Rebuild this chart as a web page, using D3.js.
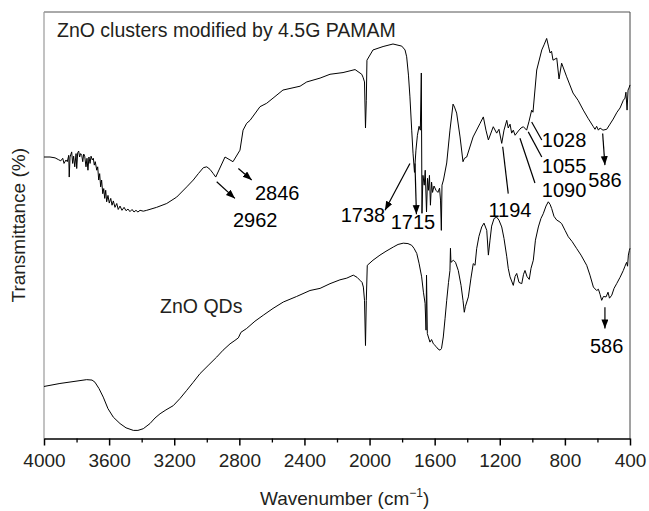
<!DOCTYPE html>
<html>
<head>
<meta charset="utf-8">
<title>FTIR ZnO</title>
<style>
  body { margin: 0; background: #fff; }
  text { font-family: "Liberation Sans", Arial, sans-serif; }
</style>
</head>
<body>
<div id="chart"></div>
<script src="https://cdn.jsdelivr.net/npm/d3@7"></script>
<script>
// spectra: [wavenumber (cm-1), transmittance (arb. %)]
var pamamSpectrum = [
  [4000,66.0],[3994,66.0],[3963,66.0],[3932,65.8],[3912,65.4],[3897,65.1],[3885,65.7],[3877,64.5],[3865,65.3],[3857,64.9],
  [3848,66.4],[3845,61.3],[3840,66.0],[3830,67.2],[3824,64.5],[3818,66.2],[3811,63.7],[3803,66.8],[3799,63.3],[3793,67.0],
  [3787,67.4],[3781,66.0],[3775,66.8],[3768,66.4],[3762,64.9],[3756,66.7],[3750,66.2],[3742,63.7],[3736,65.7],[3730,62.9],
  [3724,66.0],[3717,64.5],[3711,66.2],[3703,65.3],[3697,65.7],[3691,64.1],[3685,64.9],[3676,62.9],[3670,63.7],[3664,60.6],
  [3658,62.1],[3652,59.0],[3646,60.6],[3639,57.4],[3633,58.6],[3627,56.3],[3621,58.2],[3615,55.5],[3607,57.0],[3599,55.2],
  [3590,56.3],[3582,54.7],[3574,55.7],[3564,54.2],[3553,55.1],[3544,53.7],[3533,54.5],[3521,53.5],[3508,54.2],[3496,53.4],
  [3484,53.8],[3472,53.2],[3459,53.7],[3447,53.1],[3435,53.5],[3423,53.1],[3410,53.5],[3390,53.3],[3369,53.5],[3308,54.2],
  [3246,55.1],[3185,56.6],[3123,59.0],[3083,60.6],[3052,62.1],[3021,63.5],[3000,63.7],[2980,63.1],[2960,62.1],[2945,61.3],
  [2888,66.0],[2839,64.9],[2796,67.6],[2777,72.3],[2755,73.9],[2734,74.6],[2673,77.8],[2632,78.6],[2593,79.8],[2532,81.7],
  [2427,82.6],[2386,83.6],[2304,84.5],[2243,85.4],[2163,85.8],[2089,86.5],[2048,85.4],[2040,84.7],[2031,83.6],[2025,72.8],
  [2020,79.3],[2016,88.7],[1979,91.1],[1917,91.9],[1856,92.5],[1802,92.0],[1782,91.1],[1772,89.5],[1761,85.2],[1752,80.1],
  [1741,72.3],[1733,66.9],[1724,62.4],[1715,67.6],[1706,71.1],[1696,73.2],[1688,72.3],[1682,85.7],[1678,52.8],[1672,61.7],
  [1664,59.4],[1658,62.9],[1650,53.1],[1644,61.0],[1638,58.2],[1632,61.7],[1626,54.7],[1619,60.1],[1613,57.7],[1604,59.2],
  [1592,58.2],[1580,57.7],[1570,58.7],[1564,55.9],[1559,48.8],[1555,59.4],[1546,60.6],[1526,64.6],[1506,72.3],[1487,78.4],
  [1478,77.7],[1465,76.3],[1444,70.7],[1426,64.9],[1417,65.7],[1403,66.0],[1364,70.7],[1321,73.9],[1301,75.4],[1285,72.3],
  [1270,70.0],[1240,73.1],[1219,71.6],[1205,72.5],[1188,69.2],[1174,72.3],[1157,74.6],[1148,72.8],[1137,73.7],[1127,71.6],
  [1117,72.3],[1106,71.1],[1086,72.1],[1070,72.8],[1055,73.1],[1035,72.3],[1020,74.4],[1004,77.0],[996,76.5],[973,86.4],
  [942,91.1],[928,92.3],[912,93.8],[901,92.0],[891,90.4],[882,90.8],[873,88.7],[850,89.2],[836,84.3],[820,88.0],
  [789,84.8],[750,81.0],[719,79.3],[687,77.0],[658,75.1],[625,73.1],[615,72.5],[605,73.2],[594,72.3],[584,72.8],
  [566,72.3],[543,72.5],[523,73.7],[503,74.9],[480,76.5],[461,77.5],[441,79.3],[431,79.8],[425,81.2],[418,77.0],
  [412,81.7],[406,82.2],[400,82.9]
];

var qdSpectrum = [
  [4000,12.2],[3902,12.9],[3738,13.8],[3705,13.7],[3687,13.2],[3662,11.7],[3636,9.7],[3607,7.0],[3574,5.0],[3533,3.5],
  [3496,2.5],[3451,1.9],[3423,1.9],[3390,2.3],[3349,3.5],[3318,4.8],[3287,5.8],[3251,6.7],[3206,7.7],[3164,9.4],
  [3123,11.3],[3085,13.1],[3042,15.2],[2992,17.1],[2939,19.1],[2900,20.7],[2857,22.2],[2827,23.0],[2806,23.6],[2790,24.9],
  [2755,25.8],[2704,27.5],[2653,28.9],[2593,30.5],[2530,32.0],[2448,33.3],[2366,34.7],[2304,35.2],[2243,36.3],[2182,37.2],
  [2140,37.6],[2100,38.3],[2077,37.8],[2059,37.1],[2046,36.6],[2038,35.5],[2031,32.4],[2025,21.8],[2020,32.4],[2014,40.6],
  [1979,41.8],[1936,43.0],[1899,43.9],[1854,44.9],[1825,45.5],[1793,45.8],[1764,45.7],[1741,45.3],[1727,44.6],[1710,43.4],
  [1696,41.1],[1680,37.9],[1669,34.3],[1659,31.7],[1653,25.4],[1650,38.3],[1645,24.6],[1629,22.6],[1619,23.2],[1608,22.2],
  [1592,21.6],[1580,21.0],[1567,20.7],[1558,21.1],[1547,23.8],[1536,28.2],[1526,32.4],[1515,36.6],[1506,39.4],[1503,44.6],
  [1500,41.3],[1485,41.8],[1472,41.3],[1455,39.4],[1438,35.9],[1426,32.4],[1418,29.6],[1411,31.0],[1393,33.2],[1377,37.6],
  [1363,41.0],[1352,40.6],[1342,44.5],[1328,47.4],[1311,49.6],[1297,50.5],[1280,48.8],[1270,43.0],[1260,46.5],[1250,49.8],
  [1235,51.6],[1219,51.9],[1205,51.2],[1188,49.6],[1174,46.9],[1157,42.6],[1148,39.9],[1137,37.9],[1117,35.9],[1106,38.0],
  [1096,38.7],[1082,36.6],[1065,36.3],[1054,38.5],[1045,39.4],[1033,38.0],[1019,37.3],[1008,39.9],[994,41.8],[981,46.5],
  [963,49.6],[947,51.6],[933,52.7],[916,54.5],[902,55.5],[891,54.9],[881,53.9],[867,52.1],[850,51.2],[836,50.9],
  [820,50.4],[799,48.8],[779,47.3],[756,46.2],[727,44.5],[701,43.0],[666,40.6],[646,38.3],[625,35.5],[605,34.7],
  [594,35.0],[584,33.8],[574,32.4],[563,33.3],[547,33.2],[535,34.3],[526,32.9],[512,33.6],[498,35.2],[482,36.3],
  [461,37.8],[441,39.4],[431,40.4],[421,41.3],[415,40.4],[410,43.0],[404,44.1],[400,44.6]
];

var majorTicks = [4000, 3600, 3200, 2800, 2400, 2000, 1600, 1200, 800, 400];
var minorTicks = [3800, 3400, 3000, 2600, 2200, 1800, 1400, 1000, 600];

// sample names (anchored in data units)
var sampleNames = [
  {text: "ZnO clusters modified by 4.5G PAMAM", w: 3920, t: 94.1},
  {text: "ZnO QDs", w: 3287, t: 29.4}
];

// peak labels
var peakLabels = [
  {text: "2962", w: 2839, t: 49.6},
  {text: "2846", w: 2704, t: 55.9},
  {text: "1738", w: 2177, t: 50.8},
  {text: "1715", w: 1870, t: 49.2},
  {text: "1194", w: 1270, t: 51.9},
  {text: "1090", w: 942, t: 56.6},
  {text: "1055", w: 942, t: 62.3},
  {text: "1028", w: 942, t: 68.4},
  {text: "586", w: 656, t: 59.0},
  {text: "586", w: 646, t: 20.0}
];

// pointer lines from the peak to the label
var pointers = [
  {from: [2939, 60.2], to: [2827, 56.3], arrow: true},
  {from: [2806, 63.3], to: [2724, 60.6], arrow: true},
  {from: [1752, 64.5], to: [1905, 53.5], arrow: true},
  {from: [1721, 64.5], to: [1712, 52.6], arrow: true},
  {from: [1182, 68.4], to: [1148, 57.4], arrow: false},
  {from: [1076, 70.4], to: [984, 59.9], arrow: false},
  {from: [1025, 71.9], to: [942, 66.0], arrow: false},
  {from: [1004, 74.2], to: [942, 70.0], arrow: false},
  {from: [568, 71.5], to: [554, 64.1], arrow: true},
  {from: [554, 30.8], to: [554, 25.8], arrow: true}
];

var W = 649, H = 511;
var mLeft = 44, mRight = 630, mTop = 12, mBottom = 438.5;

var svg = d3.select("#chart").append("svg")
  .attr("width", W)
  .attr("height", H);

svg.append("defs").append("marker")
  .attr("id", "head")
  .attr("markerUnits", "userSpaceOnUse")
  .attr("markerWidth", 10)
  .attr("markerHeight", 8)
  .attr("refX", 9)
  .attr("refY", 3.5)
  .attr("orient", "auto")
  .append("path")
  .attr("d", "M0,0 L9,3.5 L0,7 Z")
  .attr("fill", "#000");

var x = d3.scaleLinear().domain([4000, 400]).range([mLeft, mRight]);
var y = d3.scaleLinear().domain([0, 100]).range([mBottom, mTop]);

// frame
svg.append("line").attr("x1", mLeft).attr("x2", mRight).attr("y1", mTop).attr("y2", mTop)
  .attr("stroke", "#555").attr("stroke-width", 1);
svg.append("line").attr("x1", mRight).attr("x2", mRight).attr("y1", mTop).attr("y2", mBottom)
  .attr("stroke", "#444").attr("stroke-width", 1);
svg.append("line").attr("x1", mLeft).attr("x2", mLeft).attr("y1", mTop).attr("y2", mBottom)
  .attr("stroke", "#999").attr("stroke-width", 1.2);

// x axis
var xAxis = d3.axisBottom(x).tickValues(majorTicks).tickSize(7).tickPadding(8).tickSizeOuter(0)
  .tickFormat(d3.format("d"));
var gx = svg.append("g").attr("transform", "translate(0," + mBottom + ")").call(xAxis);
gx.select(".domain").attr("stroke", "#000").attr("stroke-width", 1.3);
gx.selectAll(".tick line").attr("stroke", "#000").attr("stroke-width", 1.5);
gx.selectAll(".tick text")
  .attr("font-size", "19px")
  .attr("font-family", "'Liberation Sans', Arial, sans-serif")
  .attr("fill", "#231f20");

var gm = svg.append("g").attr("transform", "translate(0," + mBottom + ")")
  .call(d3.axisBottom(x).tickValues(minorTicks).tickSize(4).tickFormat(""));
gm.select(".domain").remove();
gm.selectAll(".tick line").attr("stroke", "#000").attr("stroke-width", 1.3);

// axis titles
var xt = svg.append("text")
  .attr("x", 260).attr("y", 505)
  .attr("font-size", "19px")
  .attr("fill", "#231f20");
xt.append("tspan").text("Wavenumber (cm");
xt.append("tspan").attr("dy", -8).attr("font-size", "12px").text("\u22121");
xt.append("tspan").attr("dy", 8).text(")");

svg.append("text")
  .attr("transform", "translate(25," + ((mTop + mBottom) / 2) + ") rotate(-90)")
  .attr("text-anchor", "middle")
  .attr("font-size", "19px")
  .attr("fill", "#231f20")
  .text("Transmittance (%)");

// spectra
var line = d3.line()
  .x(function(d) { return x(d[0]); })
  .y(function(d) { return y(d[1]); });

svg.append("path").datum(pamamSpectrum)
  .attr("d", line).attr("fill", "none").attr("stroke", "#000").attr("stroke-width", 1)
  .attr("stroke-linejoin", "round");
svg.append("path").datum(qdSpectrum)
  .attr("d", line).attr("fill", "none").attr("stroke", "#000").attr("stroke-width", 1)
  .attr("stroke-linejoin", "round");

// sample names
svg.selectAll("text.name").data(sampleNames).enter().append("text")
  .attr("class", "name")
  .attr("x", function(d) { return x(d.w); })
  .attr("y", function(d) { return y(d.t); })
  .attr("font-size", "19.5px")
  .attr("fill", "#231f20")
  .text(function(d) { return d.text; });

// pointers
svg.selectAll("line.ptr").data(pointers).enter().append("line")
  .attr("class", "ptr")
  .attr("x1", function(d) { return x(d.from[0]); })
  .attr("y1", function(d) { return y(d.from[1]); })
  .attr("x2", function(d) { return x(d.to[0]); })
  .attr("y2", function(d) { return y(d.to[1]); })
  .attr("stroke", "#000").attr("stroke-width", 1.2)
  .attr("marker-end", function(d) { return d.arrow ? "url(#head)" : null; });

// peak labels
svg.selectAll("text.peak").data(peakLabels).enter().append("text")
  .attr("class", "peak")
  .attr("x", function(d) { return x(d.w); })
  .attr("y", function(d) { return y(d.t); })
  .attr("font-size", "20px")
  .attr("fill", "#000")
  .text(function(d) { return d.text; });
</script>
</body>
</html>
